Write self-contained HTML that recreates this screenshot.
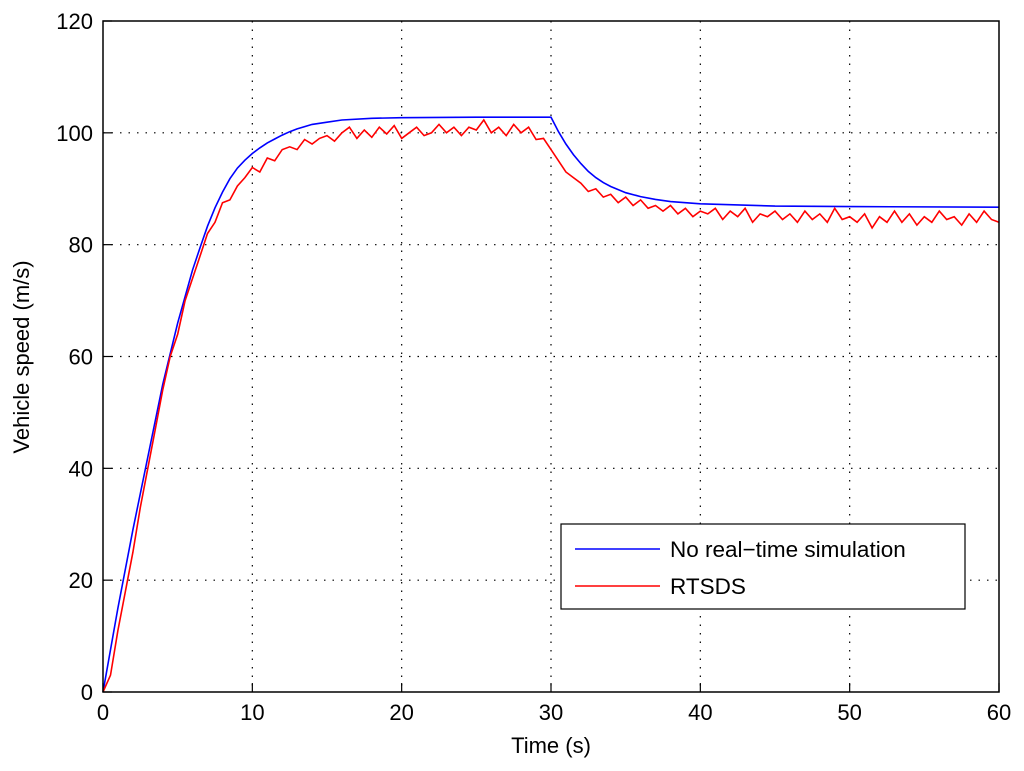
<!DOCTYPE html>
<html><head><meta charset="utf-8"><style>
html,body{margin:0;padding:0;background:#fff;}
svg{display:block;font-family:"Liberation Sans",sans-serif;}
</style></head><body>
<svg id="chart" width="1024" height="771" viewBox="0 0 1024 771" xmlns="http://www.w3.org/2000/svg">
<rect x="0" y="0" width="1024" height="771" fill="#fff"/>
<g id="grid"></g>
<g id="series"></g>
<rect x="103" y="21" width="896" height="671" fill="none" stroke="#000" stroke-width="1.5"/>
<g id="ticks"></g>
<text x="551" y="753" font-size="22" text-anchor="middle">Time (s)</text>
<text transform="translate(29,357) rotate(-90)" font-size="22" text-anchor="middle">Vehicle speed (m/s)</text>
<g>
<rect x="561" y="524" width="404" height="85" fill="#fff" stroke="#000" stroke-width="1.2"/>
<line x1="575" y1="549" x2="660" y2="549" stroke="#0000ff" stroke-width="1.5"/>
<text x="670" y="557" font-size="22.5">No real−time simulation</text>
<line x1="575" y1="586" x2="660" y2="586" stroke="#ff0000" stroke-width="1.5"/>
<text x="670" y="594" font-size="22.5">RTSDS</text>
</g>
</svg>
<script>
const xTicks=[0,10,20,30,40,50,60];
const yTicks=[0,20,40,60,80,100,120];
const blueT=[0,1,2,3,4,5,6,6.5,7,7.5,8,8.5,9,9.5,10,10.5,11,11.5,12,12.5,13,14,15,16,18,20,25,30,30.5,31,31.5,32,32.5,33,33.5,34,35,36,37,38,40,45,50,60];
const blueV=[0,15,29,42,55,66,75.5,79.5,83.3,86.6,89.4,91.8,93.7,95.1,96.3,97.3,98.2,98.9,99.6,100.2,100.7,101.5,101.9,102.3,102.6,102.7,102.8,102.8,100.2,98,96.1,94.5,93.1,92,91.1,90.4,89.3,88.6,88.1,87.7,87.3,86.9,86.8,86.7];
const redT=[0,0.5,1,1.5,2,2.5,3,3.5,4,4.5,5,5.5,6,6.5,7,7.5,8,8.5,9,9.5,10,10.5,11,11.5,12,12.5,13,13.5,14,14.5,15,15.5,16,16.5,17,17.5,18,18.5,19,19.5,20,20.5,21,21.5,22,22.5,23,23.5,24,24.5,25,25.5,26,26.5,27,27.5,28,28.5,29,29.5,30,30.5,31,31.5,32,32.5,33,33.5,34,34.5,35,35.5,36,36.5,37,37.5,38,38.5,39,39.5,40,40.5,41,41.5,42,42.5,43,43.5,44,44.5,45,45.5,46,46.5,47,47.5,48,48.5,49,49.5,50,50.5,51,51.5,52,52.5,53,53.5,54,54.5,55,55.5,56,56.5,57,57.5,58,58.5,59,59.5,60];
const redV=[0,3,11,18,25,33,40,47,54,60,64,70,74,78,82,84,87.5,88,90.5,92,93.8,93,95.5,95,97,97.5,97,98.8,98,99,99.5,98.5,100,101,99,100.5,99.2,101,99.8,101.3,99,100,101,99.5,100,101.5,100,101,99.5,101,100.5,102.3,100,101,99.5,101.5,100,101,98.8,99,97,95,93,92,91,89.5,90,88.5,89,87.5,88.5,87,88,86.5,87,86,87,85.5,86.5,85,86,85.5,86.5,84.5,86,85,86.5,84,85.5,85,86,84.5,85.5,84,86,84.5,85.5,84,86.5,84.5,85,84,85.5,83,85,84,86,84,85.5,83.5,85,84,86,84.5,85,83.5,85.5,84,86,84.5,84];
const X=t=>103+t*896/60, Y=v=>692-v*671/120;
const NS="http://www.w3.org/2000/svg";
const grid=document.getElementById('grid'),ticks=document.getElementById('ticks'),ser=document.getElementById('series');
function mk(tag,attrs,parent){const e=document.createElementNS(NS,tag);for(const k in attrs)e.setAttribute(k,attrs[k]);parent.appendChild(e);return e;}
xTicks.forEach(t=>{
  if(t>0&&t<60){const g=mk('line',{x1:X(t),x2:X(t),y1:21,y2:692,stroke:'#000','stroke-width':1.2,'stroke-dasharray':'1.5 7'},grid);
  
  }
  const tk=mk('line',{x1:X(t),x2:X(t),y1:692,y2:683,stroke:'#000','stroke-width':1.2},ticks);
  
  
  const l=mk('text',{x:X(t),y:720,'font-size':22,'text-anchor':'middle'},ticks);l.textContent=t;
  
  
});
yTicks.forEach(v=>{
  if(v>0&&v<120){const g=mk('line',{x1:103,x2:999,y1:Y(v),y2:Y(v),stroke:'#000','stroke-width':1.2,'stroke-dasharray':'1.5 7'},grid);
  
  }
  const tk=mk('line',{x1:103,x2:112,y1:Y(v),y2:Y(v),stroke:'#000','stroke-width':1.2},ticks);
  
  
  const l=mk('text',{x:93,y:Y(v)+8,'font-size':22,'text-anchor':'end'},ticks);l.textContent=v;
  
  
});
function line(T,V,color,name){
  const d=T.map((t,i)=>(i?'L':'M')+X(t).toFixed(1)+' '+Y(V[i]).toFixed(1)).join(' ');
  const p=mk('path',{d:d,fill:'none',stroke:color,'stroke-width':1.6},ser);
  
  
}
line(blueT,blueV,'#0000ff','no-realtime-line');
line(redT,redV,'#ff0000','rtsds-line');
</script>
</body></html>
